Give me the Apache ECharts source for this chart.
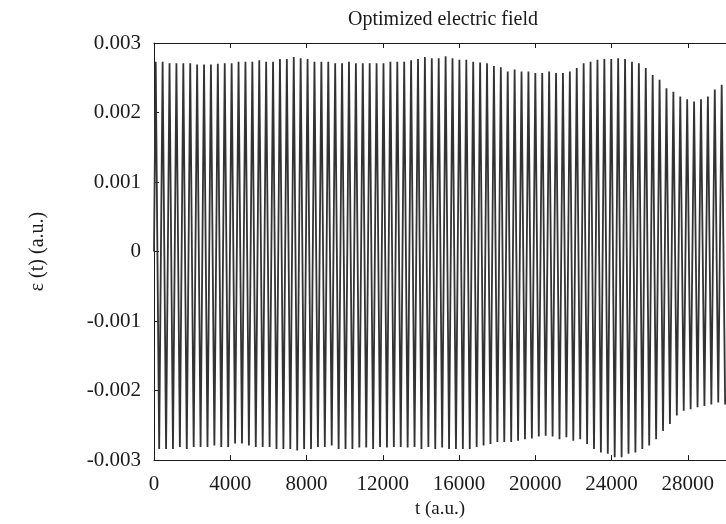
<!DOCTYPE html>
<html>
<head>
<meta charset="utf-8">
<title>Optimized electric field</title>
<script src="https://cdn.jsdelivr.net/npm/echarts@6/dist/echarts.min.js"></script>
<style>
  html, body { margin: 0; padding: 0; background: #fff; }
  #chart { width: 726px; height: 524px; }
</style>
</head>
<body>
<div id="chart"></div>
<script>
// field values, in units of 1e-3 a.u.
// one positive peak and one negative trough per optical cycle
const peakValues = [
  2.73, 2.73, 2.71, 2.71, 2.71, 2.71, 2.69, 2.69, 2.69, 2.70,
  2.71, 2.71, 2.73, 2.73, 2.73, 2.75, 2.73, 2.73, 2.77, 2.77,
  2.80, 2.78, 2.77, 2.73, 2.73, 2.73, 2.71, 2.71, 2.73, 2.71,
  2.71, 2.71, 2.71, 2.71, 2.73, 2.73, 2.73, 2.75, 2.77, 2.80,
  2.78, 2.78, 2.81, 2.78, 2.76, 2.76, 2.73, 2.72, 2.71, 2.67,
  2.65, 2.59, 2.62, 2.59, 2.59, 2.57, 2.57, 2.59, 2.57, 2.57,
  2.59, 2.64, 2.71, 2.73, 2.76, 2.77, 2.77, 2.78, 2.77, 2.73,
  2.71, 2.64, 2.54, 2.47, 2.35, 2.30, 2.23, 2.19, 2.16, 2.19,
  2.23, 2.33, 2.40
]
const troughValues = [
  -2.84, -2.84, -2.84, -2.81, -2.84, -2.81, -2.81, -2.81, -2.79, -2.81,
  -2.81, -2.76, -2.76, -2.79, -2.81, -2.81, -2.81, -2.84, -2.84, -2.84,
  -2.86, -2.84, -2.84, -2.81, -2.81, -2.79, -2.84, -2.84, -2.84, -2.82,
  -2.82, -2.84, -2.81, -2.82, -2.81, -2.81, -2.82, -2.81, -2.84, -2.81,
  -2.84, -2.82, -2.84, -2.84, -2.84, -2.84, -2.81, -2.79, -2.77, -2.74,
  -2.74, -2.74, -2.72, -2.70, -2.69, -2.66, -2.65, -2.66, -2.70, -2.67,
  -2.72, -2.70, -2.77, -2.84, -2.89, -2.91, -2.96, -2.96, -2.91, -2.89,
  -2.84, -2.79, -2.70, -2.58, -2.48, -2.36, -2.29, -2.27, -2.24, -2.22,
  -2.20, -2.17, -2.20
]
const cycleLength = 362   // a.u. of time per optical cycle
const firstPeakTime = 90
const unit = 0.001

const xTicks = [0, 4000, 8000, 12000, 16000, 20000, 24000, 28000]
const yTicks = [-0.003, -0.002, -0.001, 0, 0.001, 0.002, 0.003]

const fieldData = [[0, 0]]
peakValues.forEach((v, k) => {
  const tPeak = firstPeakTime + k * cycleLength
  fieldData.push([tPeak, v * unit])
  fieldData.push([tPeak + cycleLength / 2, troughValues[k] * unit])
})

const serif = 'Liberation Serif'
const ink = '#1a1a1a'

const chart = echarts.init(document.getElementById('chart'), null, { renderer: 'canvas' })

const xBase = {
  type: 'value',
  min: 0,
  max: 30000,
  interval: 4000,
  axisLine: { onZero: false, lineStyle: { color: ink, width: 1 } },
  axisTick: { inside: true, length: 5, lineStyle: { color: ink } },
  splitLine: { show: false },
}

chart.setOption({
  animation: false,
  title: {
    text: 'Optimized electric field',
    left: 438,
    top: 5,
    textAlign: 'center',
    textStyle: { fontFamily: serif, fontSize: 20, fontWeight: 'normal', color: ink, letterSpacing: 0.8 },
  },
  grid: { left: 154, right: -9, top: 43, bottom: 61 },
  xAxis: [
    {
      ...xBase,
      position: 'bottom',
      name: 't (a.u.)',
      nameLocation: 'middle',
      nameGap: 36,
      nameTextStyle: { fontFamily: serif, fontSize: 19, color: ink },
      axisLabel: {
        showMaxLabel: false,
        margin: 14,
        fontFamily: serif,
        fontSize: 21,
        color: ink,
        formatter: v => (xTicks.includes(v) ? String(v) : ''),
      },
    },
    {
      ...xBase,
      position: 'top',
      axisLabel: { show: false },
    },
  ],
  yAxis: {
    type: 'value',
    min: -0.003,
    max: 0.003,
    interval: 0.001,
    name: 'ε (t) (a.u.)',
    nameLocation: 'middle',
    nameGap: 106,
    nameTextStyle: { fontFamily: serif, fontSize: 20, color: ink, letterSpacing: 3.5 },
    axisLine: { show: true, onZero: false, lineStyle: { color: ink, width: 1 } },
    axisTick: { show: true, inside: true, length: 5, lineStyle: { color: ink } },
    splitLine: { show: false },
    axisLabel: {
      margin: 13,
      fontFamily: serif,
      fontSize: 21,
      color: ink,
      formatter: v => {
        const hit = yTicks.find(t => Math.abs(t - v) < 1e-9)
        if (hit === undefined) return ''
        return hit === 0 ? '0' : hit.toFixed(3)
      },
    },
  },
  series: [
    {
      type: 'line',
      data: fieldData,
      showSymbol: false,
      symbol: 'none',
      lineStyle: { color: '#333333', width: 1.8 },
      z: 1,
    },
  ],
})
</script>
</body>
</html>
